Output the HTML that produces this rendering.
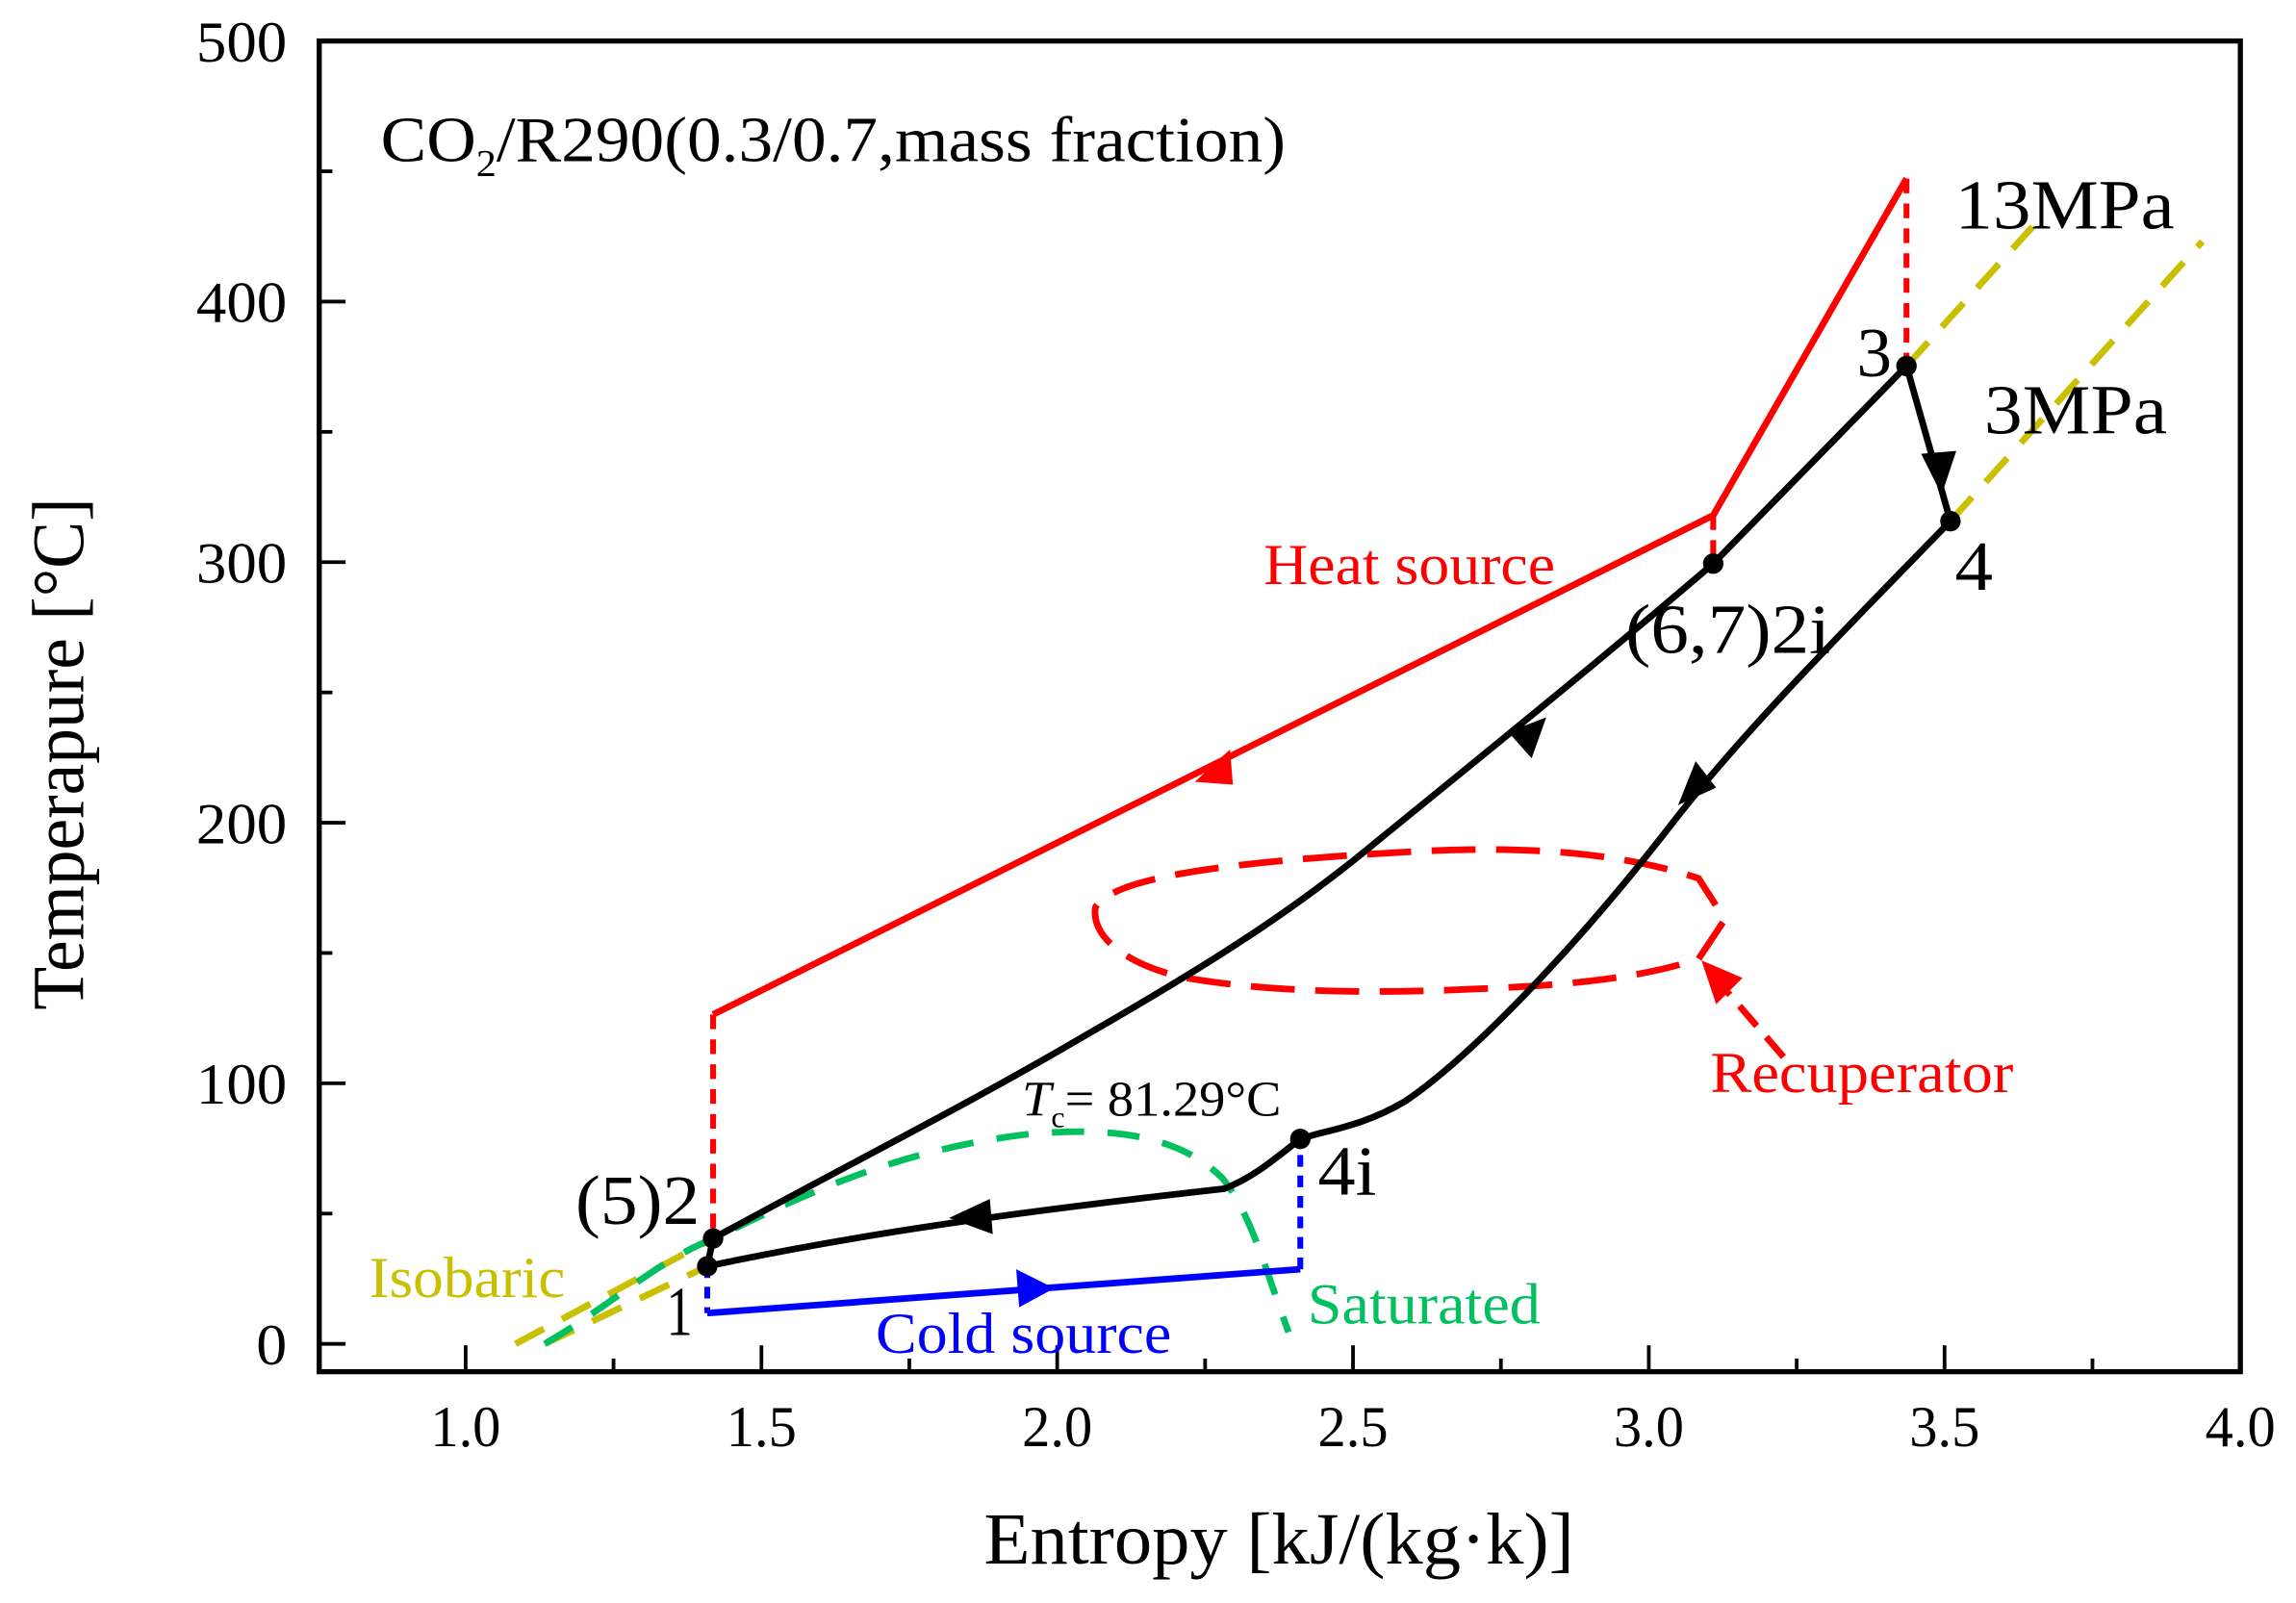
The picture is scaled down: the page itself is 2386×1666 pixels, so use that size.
<!DOCTYPE html>
<html><head><meta charset="utf-8"><style>
html,body{margin:0;padding:0;background:#fff;}
svg{display:block;}
text{font-family:"Liberation Serif",serif;}
</style></head><body>
<svg width="2386" height="1666" viewBox="0 0 1568 1095" preserveAspectRatio="none" xmlns="http://www.w3.org/2000/svg">
<rect x="218" y="28" width="1312" height="909" fill="none" stroke="#000" stroke-width="3.5"/>
<g stroke="#000" stroke-width="2.5">
<line x1="318" y1="937" x2="318" y2="919"/><line x1="419" y1="937" x2="419" y2="928"/>
<line x1="520" y1="937" x2="520" y2="919"/><line x1="621" y1="937" x2="621" y2="928"/>
<line x1="722" y1="937" x2="722" y2="919"/><line x1="823" y1="937" x2="823" y2="928"/>
<line x1="924" y1="937" x2="924" y2="919"/><line x1="1025" y1="937" x2="1025" y2="928"/>
<line x1="1126" y1="937" x2="1126" y2="919"/><line x1="1227" y1="937" x2="1227" y2="928"/>
<line x1="1328" y1="937" x2="1328" y2="919"/><line x1="1429" y1="937" x2="1429" y2="928"/>
<line x1="218" y1="918" x2="236" y2="918"/><line x1="218" y1="829" x2="227" y2="829"/>
<line x1="218" y1="740" x2="236" y2="740"/><line x1="218" y1="651" x2="227" y2="651"/>
<line x1="218" y1="562" x2="236" y2="562"/><line x1="218" y1="473" x2="227" y2="473"/>
<line x1="218" y1="384" x2="236" y2="384"/><line x1="218" y1="295" x2="227" y2="295"/>
<line x1="218" y1="206" x2="236" y2="206"/><line x1="218" y1="117" x2="227" y2="117"/>
</g>
<g font-size="40" fill="#000" text-anchor="end">
<text x="196" y="42" textLength="62" lengthAdjust="spacingAndGlyphs">500</text>
<text x="196" y="220" textLength="62" lengthAdjust="spacingAndGlyphs">400</text>
<text x="196" y="398" textLength="62" lengthAdjust="spacingAndGlyphs">300</text>
<text x="196" y="576" textLength="62" lengthAdjust="spacingAndGlyphs">200</text>
<text x="196" y="754" textLength="62" lengthAdjust="spacingAndGlyphs">100</text>
<text x="196" y="932" textLength="21" lengthAdjust="spacingAndGlyphs">0</text>
</g>
<g font-size="40" fill="#000" text-anchor="middle">
<text x="318" y="988" textLength="48" lengthAdjust="spacingAndGlyphs">1.0</text>
<text x="520" y="988" textLength="48" lengthAdjust="spacingAndGlyphs">1.5</text>
<text x="722" y="988" textLength="48" lengthAdjust="spacingAndGlyphs">2.0</text>
<text x="924" y="988" textLength="48" lengthAdjust="spacingAndGlyphs">2.5</text>
<text x="1126" y="988" textLength="48" lengthAdjust="spacingAndGlyphs">3.0</text>
<text x="1328" y="988" textLength="48" lengthAdjust="spacingAndGlyphs">3.5</text>
<text x="1530" y="988" textLength="48" lengthAdjust="spacingAndGlyphs">4.0</text>
</g>
<text x="672" y="1068" font-size="50" textLength="403" lengthAdjust="spacingAndGlyphs">Entropy [kJ/(kg·k)]</text>
<text transform="translate(57,690) rotate(-90)" font-size="50" textLength="350" lengthAdjust="spacingAndGlyphs">Temperapure [°C]</text>

<g stroke="#c8c000" stroke-width="4.5" fill="none" stroke-dasharray="22,14">
<line x1="352" y1="918" x2="487" y2="846"/>
<line x1="372" y1="918" x2="483" y2="865"/>
<line x1="1302" y1="250" x2="1388" y2="155"/>
<line x1="1332" y1="356" x2="1504" y2="165"/>
</g>
<path d="M372,918 C420,890 450,860 490,845 C560,810 620,785 700,775 C770,768 810,780 835,805 C855,830 865,870 880,910" fill="none" stroke="#00c060" stroke-width="4.5" stroke-dasharray="22,16"/>
<polyline points="1302,122 1170,352 487,693" fill="none" stroke="#f00" stroke-width="4.5"/>
<g stroke="#f00" stroke-width="4" stroke-dasharray="10,7">
<line x1="487" y1="693" x2="487" y2="846"/>
<line x1="1302" y1="122" x2="1302" y2="250"/>
<line x1="1170" y1="352" x2="1170" y2="385"/>
</g>
<path d="M816,534 L840,512 L842,536 z" fill="#f00"/>
<path d="M1160,655 L1178,628 L1160,600 C1100,580 1030,578 960,582 C850,588 760,598 748,620 C745,645 780,662 810,668 C880,680 960,678 1020,675 C1090,672 1130,665 1160,655" fill="none" stroke="#f00" stroke-width="4.5" stroke-dasharray="30,14"/>
<line x1="1218" y1="722" x2="1180" y2="678" stroke="#f00" stroke-width="4.5" stroke-dasharray="18,10"/>
<path d="M1162,656 L1190,668 L1172,686 z" fill="#f00"/>
<g stroke="#00f" stroke-width="4" stroke-dasharray="8,6">
<line x1="483" y1="865" x2="483" y2="897"/>
<line x1="888" y1="867" x2="888" y2="778"/>
</g>
<line x1="483" y1="897" x2="888" y2="867" stroke="#00f" stroke-width="4.5"/>
<path d="M720,880 L694,867 L696,893 z" fill="#00f"/>
<g fill="none" stroke="#000" stroke-width="4.5">
<line x1="483" y1="865" x2="487" y2="846"/>
<path d="M487,846 C580,795 660,755 740,708 C820,662 880,625 940,575 C1020,510 1100,445 1170,385 L1302,250"/>
<path d="M1302,250 L1332,356"/>
<path d="M1332,356 C1260,430 1190,500 1140,565 C1070,655 1000,725 960,752 C930,770 905,772 888,778 C870,792 855,805 836,812 C720,825 600,840 483,865"/>
</g>
<path d="M1056,490 L1030,500 L1046,518 z" fill="#000"/>
<path d="M1326,338 L1312,310 L1336,308 z" fill="#000"/>
<path d="M1146,550 L1172,538 L1158,520 z" fill="#000"/>
<path d="M648,832 L676,819 L678,843 z" fill="#000"/>
<g fill="#000">
<circle cx="483" cy="865" r="7"/><circle cx="487" cy="846" r="7"/><circle cx="1170" cy="385" r="7"/>
<circle cx="1302" cy="250" r="7"/><circle cx="1332" cy="356" r="7"/><circle cx="888" cy="778" r="7"/>
</g>
<text x="260" y="110" font-size="44" textLength="618" lengthAdjust="spacingAndGlyphs">CO<tspan font-size="26" dy="10">2</tspan><tspan dy="-10">/R290(0.3/0.7,mass fraction)</tspan></text>
<text x="1335" y="156" font-size="48" textLength="150" lengthAdjust="spacingAndGlyphs">13MPa</text>
<text x="1355" y="296" font-size="48" textLength="125" lengthAdjust="spacingAndGlyphs">3MPa</text>
<text x="1268" y="257" font-size="48" textLength="24" lengthAdjust="spacingAndGlyphs">3</text>
<text x="1335" y="403" font-size="48" textLength="26" lengthAdjust="spacingAndGlyphs">4</text>
<text x="1110" y="446" font-size="48" textLength="140" lengthAdjust="spacingAndGlyphs">(6,7)2i</text>
<text x="863" y="399" font-size="40" fill="#f00" textLength="199" lengthAdjust="spacingAndGlyphs">Heat source</text>
<text x="1168" y="746" font-size="40" fill="#f00" textLength="207" lengthAdjust="spacingAndGlyphs">Recuperator</text>
<text x="698" y="762" font-size="34" textLength="177" lengthAdjust="spacingAndGlyphs"><tspan font-style="italic">T</tspan><tspan font-size="20" dy="8">c</tspan><tspan dy="-8">= 81.29°C</tspan></text>
<text x="900" y="816" font-size="48" textLength="40" lengthAdjust="spacingAndGlyphs">4i</text>
<text x="393" y="836" font-size="48" textLength="85" lengthAdjust="spacingAndGlyphs">(5)2</text>
<text x="252" y="886" font-size="40" fill="#c8c000" textLength="134" lengthAdjust="spacingAndGlyphs">Isobaric</text>
<text x="455" y="912" font-size="48" textLength="18" lengthAdjust="spacingAndGlyphs">1</text>
<text x="598" y="924" font-size="40" fill="#00f" textLength="202" lengthAdjust="spacingAndGlyphs">Cold source</text>
<text x="893" y="904" font-size="40" fill="#00c060" textLength="159" lengthAdjust="spacingAndGlyphs">Saturated</text>
</svg>
</body></html>
